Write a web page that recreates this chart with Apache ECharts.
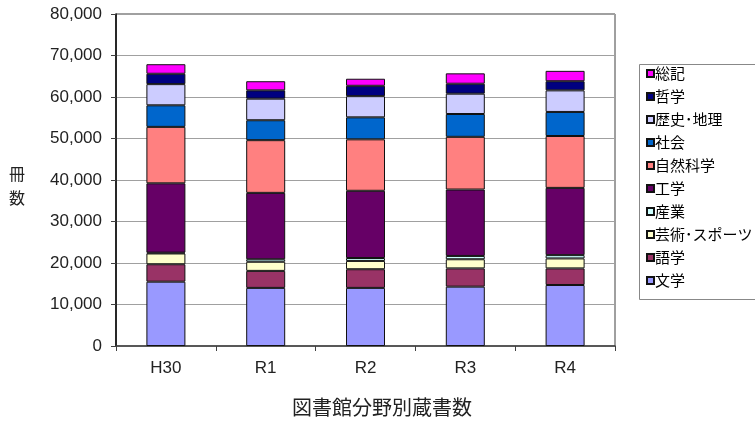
<!DOCTYPE html>
<html><head><meta charset="utf-8">
<script src="https://cdn.jsdelivr.net/npm/echarts@6/dist/echarts.min.js"></script>
<style>html,body{margin:0;padding:0;background:#fff}#c{width:755px;height:423px}</style>
</head><body><div id="c"></div>
<script>
var categories = ['H30','R1','R2','R3','R4'];
var bungaku   = [15500,14000,14000,14300,14700]; // 文学
var gogaku    = [4200,4100,4500,4400,4000];      // 語学
var geijutsu  = [2600,2200,2000,2200,2400];      // 芸術・スポーツ
var sangyo    = [200,600,700,800,800];           // 産業
var kogaku    = [16700,16000,16200,16000,16200]; // 工学
var shizen    = [13600,12700,12400,12700,12500]; // 自然科学
var shakai    = [5200,4800,5300,5500,5800];      // 社会
var rekishi   = [5100,5200,5100,4900,5200];      // 歴史・地理
var tetsugaku = [2500,2000,2500,2400,2200];      // 哲学
var soki      = [2300,2200,1700,2500,2500];      // 総記
var yTicks = [0,10000,20000,30000,40000,50000,60000,70000,80000];

var seriesDefs = [
  ['文学', bungaku, '#9999FF'],
  ['語学', gogaku, '#993366'],
  ['芸術･スポーツ', geijutsu, '#FFFFCC'],
  ['産業', sangyo, '#CCFFFF'],
  ['工学', kogaku, '#660066'],
  ['自然科学', shizen, '#FF8080'],
  ['社会', shakai, '#0066CC'],
  ['歴史･地理', rekishi, '#CCCCFF'],
  ['哲学', tetsugaku, '#000080'],
  ['総記', soki, '#FF00FF']
];
var font = '"Liberation Sans", Arial, "Noto Sans CJK JP", sans-serif';
var jfont = '"Noto Sans CJK JP", sans-serif';
function fmt(v){ return String(v).replace(/\B(?=(\d{3})+(?!\d))/g, ','); }

var chart = echarts.init(document.getElementById('c'));
chart.setOption({
  animation: false,
  backgroundColor: '#fff',
  grid: { left: 116, right: 140, top: 14, bottom: 77, show: true, borderColor: '#404040', borderWidth: 1 },
  legend: {
    orient: 'vertical', left: 641, top: 61,
    data: seriesDefs.map(function(s){return s[0];}).reverse(),
    icon: 'rect', itemWidth: 7, itemHeight: 7, itemGap: 8,
    textStyle: { fontFamily: jfont, fontSize: 15, color: '#000', lineHeight: 14, padding: [0,0,0,-4] }
  },
  xAxis: {
    type: 'category', data: categories,
    axisLine: { lineStyle: { color: '#404040', width: 1.5 } },
    axisTick: { show: true, alignWithLabel: false, length: 5, lineStyle: { color: '#404040' } },
    axisLabel: { fontFamily: font, fontSize: 17, color: '#222', margin: 14 }
  },
  yAxis: {
    type: 'value', min: 0, max: 80000, interval: 10000,
    axisLine: { show: true, lineStyle: { color: '#000', width: 1.5 } },
    axisTick: { show: true, length: 5, lineStyle: { color: '#404040' } },
    axisLabel: { fontFamily: font, fontSize: 17, color: '#222', margin: 14,
      formatter: function(v){ return yTicks.indexOf(v) >= 0 ? fmt(v) : ''; } },
    splitLine: { lineStyle: { color: '#a0a0a0', width: 1 } }
  },
  series: seriesDefs.map(function(s){
    return { name: s[0], type: 'bar', stack: 'total', data: s[1], barWidth: 39,
      itemStyle: { color: s[2], borderColor: '#111', borderWidth: 1 } };
  }),
  graphic: [
    { type: 'rect', left: 637, top: 62, shape: { width: 140, height: 235 },
      style: { fill: 'none', stroke: '#888', lineWidth: 1 } },
    { type: 'text', left: 9, top: 162,
      style: { text: '冊\n数', font: '16px ' + jfont, fill: '#222', lineHeight: 24 } },
    { type: 'text', left: 292, top: 397,
      style: { text: '図書館分野別蔵書数', font: '20px ' + jfont, fill: '#222' } }
  ]
});
</script></body></html>
